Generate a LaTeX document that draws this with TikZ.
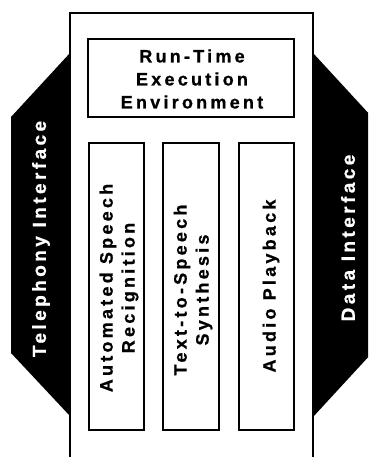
\documentclass[tikz,border=0pt]{standalone}
\usepackage{fontspec}
\setmainfont{Liberation Sans}
\newfontfamily\lblfont[LetterSpace=18, FakeBold=0.8]{Liberation Sans Bold}
\begin{document}
\begin{tikzpicture}[x=1pt,y=-1pt,
  panel/.style={draw=black, line width=1.4pt, fill=white, inner sep=0pt},
  boxtext/.style={font=\lblfont\fontsize{18}{23}\selectfont, align=center, inner sep=0pt},
  sidetext/.style={font=\lblfont\fontsize{19}{22}\selectfont, text=white, rotate=90, inner sep=0pt},
  coltext/.style={font=\lblfont\fontsize{18}{22}\selectfont, align=center, rotate=90, inner sep=0pt}]
\path[use as bounding box] (0,0) rectangle (368,457);
\clip (0,0) rectangle (368,457);

% interface bands on both sides
\fill[black] (70,53) -- (11,117) -- (11,353) -- (70,416) -- cycle;
\fill[black] (313,53) -- (371,116) -- (371,354) -- (313,417) -- cycle;

% platform frame, open at the bottom
\draw[line width=1.6pt, fill=white] (70,13) rectangle (313,470);

% run-time environment
\node[panel, minimum width=206pt, minimum height=78pt] (rte) at (191,78) {};
\node[boxtext] (rtetext) at (192,79) {Run-Time\\Execution\\Environment};

% engine columns
\node[panel, minimum width=55pt, minimum height=287pt] (asr) at (116.5,286.5) {};
\node[panel, minimum width=56pt, minimum height=287pt] (tts) at (191,286.5) {};
\node[panel, minimum width=55pt, minimum height=287pt] (play) at (266.5,286.5) {};

\node[coltext] (asrtext) at (119,288) {Automated Speech\\Recignition};
\node[coltext] (ttstext) at (193,290) {Text-to-Speech\\Synthesis};
\node[coltext] (playtext) at (271,286) {Audio Playback};

% interface labels
\node[sidetext] (tel) at (41,239) {Telephony Interface};
\node[sidetext] (data) at (348,238) {Data Interface};
\end{tikzpicture}
\end{document}
